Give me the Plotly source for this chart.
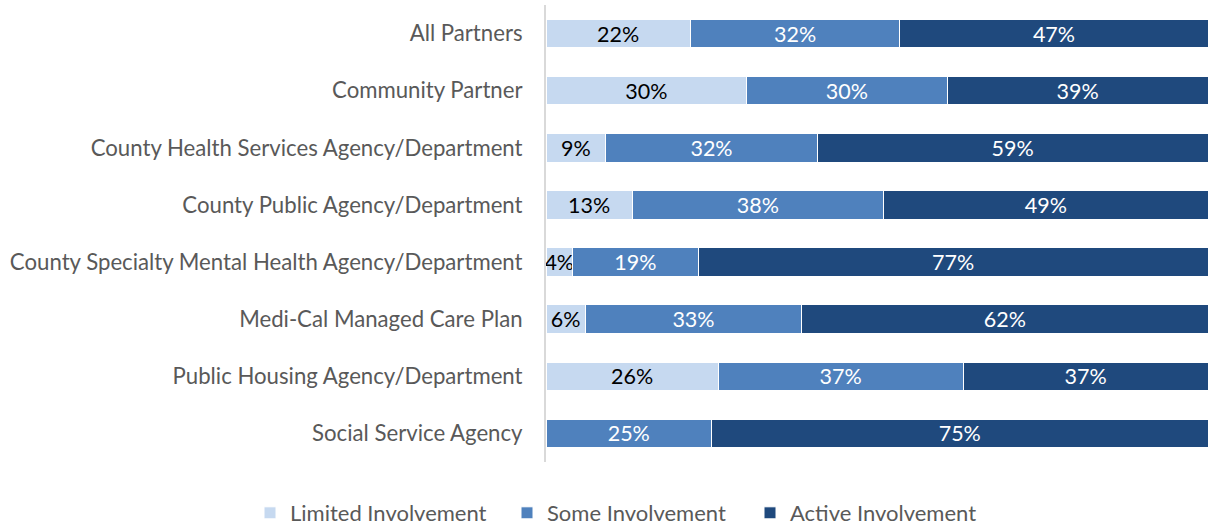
import plotly.graph_objects as go

categories = [
    "All Partners",
    "Community Partner",
    "County Health Services Agency/Department",
    "County Public Agency/Department",
    "County Specialty Mental Health Agency/Department",
    "Medi-Cal Managed Care Plan",
    "Public Housing Agency/Department",
    "Social Service Agency",
]
limited = [22, 30, 9, 13, 4, 6, 26, 0]
some = [32, 30, 32, 38, 19, 33, 37, 25]
active = [47, 39, 59, 49, 77, 62, 37, 75]

series = [
    ("Limited Involvement", limited, "#C6D9F0", "#000000"),
    ("Some Involvement", some, "#4F81BD", "#FFFFFF"),
    ("Active Involvement", active, "#1F497D", "#FFFFFF"),
]

FONT = "Lato"
FS = 21.5
W, H = 1208, 525
legend_names = ["legend", "legend2", "legend3"]
legend_x = [250, 507, 750]

fig = go.Figure()
for (name, vals, color, tcolor), lg in zip(series, legend_names):
    fig.add_trace(go.Bar(
        y=categories, x=vals, name=name, orientation="h",
        marker=dict(color=color, line=dict(color="white", width=1)),
        text=[f"{v}%" if v else "" for v in vals],
        textposition="inside", insidetextanchor="middle",
        constraintext="none", textangle=0,
        textfont=dict(color=tcolor, size=FS, family=FONT),
        hoverinfo="skip", legend=lg,
    ))

layout_legends = {}
for lg, lx in zip(legend_names, legend_x):
    layout_legends[lg] = dict(
        orientation="h", x=lx / W, xanchor="left", xref="container",
        y=(H - 513) / H, yanchor="middle", yref="container",
        font=dict(size=22, color="#595959", family=FONT),
        itemwidth=30, bgcolor="rgba(0,0,0,0)",
    )

fig.update_layout(
    barmode="stack", barnorm="percent",
    width=W, height=H,
    margin=dict(l=546, r=0, t=5, b=63, autoexpand=False),
    plot_bgcolor="white", paper_bgcolor="white",
    bargap=0.5,
    font=dict(family=FONT, size=FS, color="#595959"),
    uniformtext=dict(minsize=FS, mode="show"),
    showlegend=True,
    **layout_legends,
)
fig.update_xaxes(visible=False, range=[0, 100], automargin=False)
fig.update_yaxes(autorange="reversed", showline=True, linecolor="#D9D9D9",
                 linewidth=2, ticks="", ticklabelstandoff=17,
                 tickfont=dict(size=22.2, color="#595959", family=FONT),
                 automargin=False, showgrid=False)
fig.write_html(
    "out.html",
    config={"displayModeBar": False},
    post_script="document.body.style.margin='0';document.body.style.overflow='hidden';",
)
